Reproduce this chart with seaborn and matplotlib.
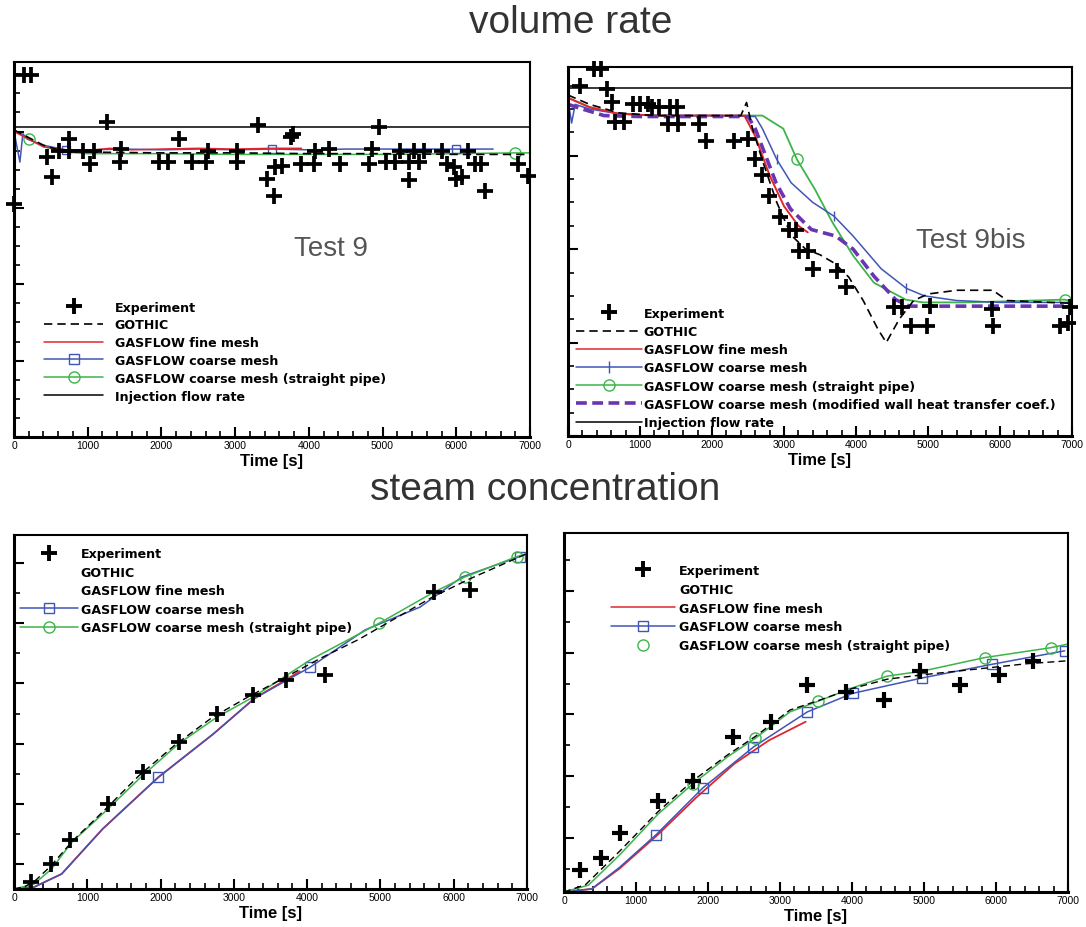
import numpy as np
import pandas as pd
import matplotlib
matplotlib.use("Agg")
import matplotlib.pyplot as plt
import seaborn as sns
from matplotlib.lines import Line2D
from matplotlib.ticker import MultipleLocator

sns.set_style("white")
plt.rcParams["font.family"] = ["Liberation Sans", "DejaVu Sans"]
plt.rcParams["text.color"] = "black"
plt.rcParams["axes.labelcolor"] = "black"

# ---------------- data : volume rate, Test 9 ----------------
tl_exp_x = [0, 141, 235, 446, 517, 611, 752, 752, 940, 1034, 1081, 1268, 1433, 1456, 1973, 2090,
            2232, 2419, 2607, 2631, 3030, 3030, 3312, 3430, 3523, 3547, 3641, 3758, 3782, 3899,
            4064, 4087, 4275, 4416, 4815, 4862, 4956, 5050, 5168, 5238, 5356, 5356, 5426, 5497,
            5567, 5802, 5872, 5966, 5990, 6084, 6154, 6248, 6342, 6389, 6836, 6977]
tl_exp_y = [3.05, 4.74, 4.74, 3.66, 3.40, 3.75, 3.90, 3.75, 3.75, 3.57, 3.75, 4.12, 3.60, 3.77, 3.60, 3.60,
            3.90, 3.60, 3.60, 3.75, 3.60, 3.75, 4.08, 3.38, 3.16, 3.53, 3.55, 3.93, 3.97, 3.57,
            3.57, 3.75, 3.77, 3.57, 3.57, 3.77, 4.06, 3.60, 3.60, 3.75, 3.60, 3.36, 3.75, 3.60,
            3.75, 3.75, 3.57, 3.53, 3.38, 3.40, 3.75, 3.57, 3.57, 3.22, 3.57, 3.42]
tl_goth_x = [0, 200, 400, 600, 1000, 2000, 3000, 4000, 5000, 6000, 7000]
tl_goth_y = [4.02, 3.92, 3.82, 3.76, 3.73, 3.72, 3.72, 3.71, 3.71, 3.70, 3.70]
tl_fine_x = [0, 200, 400, 700, 1000, 1300, 1600, 2000, 2500, 3000, 3500, 3900]
tl_fine_y = [4.00, 3.90, 3.80, 3.76, 3.75, 3.78, 3.76, 3.77, 3.78, 3.77, 3.78, 3.78]
tl_coarse_x = [0, 80, 120, 180, 400, 700, 1000, 1500, 2000, 2500, 3000, 3500, 4000, 4500, 5000, 5500, 6000, 6500]
tl_coarse_y = [4.00, 3.60, 3.97, 3.90, 3.82, 3.76, 3.76, 3.77, 3.76, 3.77, 3.76, 3.77, 3.76, 3.77, 3.77, 3.77, 3.77, 3.77]
tl_pipe_x = [0, 200, 400, 700, 1000, 2000, 3000, 4000, 5000, 6000, 6800, 7000]
tl_pipe_y = [4.02, 3.90, 3.80, 3.73, 3.71, 3.71, 3.70, 3.70, 3.70, 3.71, 3.72, 3.72]
tl_inj_x = [0, 7000]
tl_inj_y = [4.06, 4.06]

# ---------------- data : volume rate, Test 9bis ----------------
tr_exp_x = [170, 365, 462, 535, 608, 656, 778, 899, 997, 1118, 1167, 1264, 1385, 1410, 1507, 1531,
            1823, 1920, 2309, 2503, 2601, 2698, 2795, 2941, 3063, 3160, 3208, 3330, 3403, 3743,
            3865, 4521, 4642, 4764, 4983, 5031, 5882, 5906, 6830, 6951, 6976]
tr_exp_y = [3.75, 3.93, 3.93, 3.71, 3.57, 3.36, 3.36, 3.55, 3.55, 3.55, 3.52, 3.52, 3.34, 3.52, 3.52, 3.34,
            3.34, 3.16, 3.16, 3.18, 2.96, 2.79, 2.57, 2.34, 2.20, 2.20, 1.98, 1.98, 1.79, 1.77,
            1.59, 1.38, 1.38, 1.18, 1.18, 1.39, 1.36, 1.18, 1.18, 1.21, 1.38]
tr_goth_x = [0, 300, 700, 1200, 2000, 2400, 2480, 2560, 2700, 2900, 3100, 3300, 3500, 3700, 3900,
             4100, 4300, 4420, 4600, 4800, 5000, 5400, 5900, 6100, 7000]
tr_goth_y = [3.65, 3.55, 3.46, 3.43, 3.43, 3.43, 3.57, 3.30, 2.95, 2.50, 2.15, 2.00, 1.94, 1.85, 1.70,
             1.45, 1.15, 1.00, 1.25, 1.45, 1.52, 1.56, 1.56, 1.45, 1.42]
tr_fine_x = [0, 300, 700, 1200, 2000, 2450, 2600, 2800, 3000, 3200, 3330]
tr_fine_y = [3.62, 3.52, 3.45, 3.43, 3.43, 3.43, 3.21, 2.79, 2.46, 2.25, 2.18]
tr_coarse_x = [0, 50, 100, 300, 700, 1200, 2000, 2600, 2700, 2900, 3100, 3400, 3700, 3960, 4350,
               4700, 4950, 5400, 6000, 7000]
tr_coarse_y = [3.60, 3.35, 3.55, 3.50, 3.45, 3.43, 3.43, 3.42, 3.29, 2.96, 2.71, 2.50, 2.35, 2.14, 1.79,
               1.58, 1.50, 1.45, 1.43, 1.43]
tr_pipe_x = [0, 300, 700, 1200, 2000, 2700, 2990, 3180, 3430, 3670, 3960, 4250, 4690, 4930, 5500, 6000, 6900, 7000]
tr_pipe_y = [3.62, 3.52, 3.45, 3.43, 3.43, 3.43, 3.29, 2.96, 2.64, 2.29, 1.93, 1.64, 1.46, 1.43, 1.43, 1.44, 1.46, 1.44]
tr_wall_x = [0, 200, 500, 1000, 2000, 2500, 2600, 2890, 3090, 3380, 3720, 3960, 4250, 4550, 4740, 5500, 7000]
tr_wall_y = [3.55, 3.50, 3.43, 3.42, 3.42, 3.42, 3.29, 2.71, 2.43, 2.21, 2.14, 2.00, 1.71, 1.46, 1.39, 1.39, 1.39]
tr_inj_x = [0, 7000]
tr_inj_y = [3.725, 3.725]

# ---------------- data : steam concentration, Test 9 ----------------
bl_exp_x = [226, 508, 767, 1284, 1755, 2249, 2766, 3260, 3707, 4248, 5730, 6224]
bl_exp_y = [0.11, 0.42, 0.81, 1.42, 1.94, 2.44, 2.92, 3.22, 3.47, 3.56, 4.94, 4.97]
bl_goth_x = [0, 150, 300, 500, 800, 1200, 1700, 2200, 2700, 3200, 3700, 4200, 4700, 5200, 5700, 6200, 7000]
bl_goth_y = [0.00, 0.04, 0.15, 0.38, 0.80, 1.27, 1.88, 2.40, 2.85, 3.20, 3.52, 3.85, 4.15, 4.50, 4.85, 5.15, 5.58]
bl_fine_x = [0, 270, 650, 1210, 1970, 2720, 3280, 3900]
bl_fine_y = [0.00, 0.03, 0.25, 1.00, 1.86, 2.58, 3.17, 3.62]
bl_coarse_x = [0, 270, 650, 1210, 1970, 2720, 3280, 4040, 4790, 5540, 6110, 6900]
bl_coarse_y = [0.00, 0.03, 0.25, 1.00, 1.86, 2.58, 3.17, 3.69, 4.31, 4.69, 5.19, 5.53]
bl_pipe_x = [0, 270, 510, 790, 1210, 1730, 2250, 2770, 3260, 4040, 4980, 5730, 6150, 6860, 7000]
bl_pipe_y = [0.00, 0.08, 0.33, 0.78, 1.25, 1.86, 2.42, 2.86, 3.19, 3.81, 4.42, 4.94, 5.19, 5.53, 5.58]

# ---------------- data : steam concentration, Test 9bis ----------------
br_exp_x = [217, 507, 772, 1304, 1786, 2342, 2873, 3380, 3911, 4442, 4949, 5504, 6035, 6518]
br_exp_y = [0.36, 0.55, 0.96, 1.48, 1.80, 2.51, 2.76, 3.36, 3.25, 3.11, 3.58, 3.36, 3.52, 3.74]
br_goth_x = [0, 300, 772, 1304, 1786, 2269, 2655, 3138, 3524, 4007, 4490, 4973, 5460, 5940, 6420, 6900, 7000]
br_goth_y = [0.00, 0.12, 0.66, 1.30, 1.80, 2.22, 2.52, 2.95, 3.10, 3.30, 3.45, 3.52, 3.58, 3.64, 3.70, 3.74, 3.75]
br_fine_x = [0, 386, 772, 1304, 1835, 2366, 2849, 3356]
br_fine_y = [0.00, 0.05, 0.38, 0.93, 1.53, 2.08, 2.46, 2.76]
br_coarse_x = [0, 386, 772, 1280, 1931, 2631, 3380, 4007, 4973, 5938, 6953]
br_coarse_y = [0.00, 0.05, 0.40, 0.93, 1.69, 2.35, 2.92, 3.22, 3.47, 3.69, 3.91]
br_pipe_x = [0, 338, 772, 1304, 1786, 2269, 2655, 3138, 3524, 4007, 4490, 4973, 5842, 6759, 7000]
br_pipe_y = [0.00, 0.11, 0.60, 1.26, 1.75, 2.19, 2.49, 2.92, 3.09, 3.31, 3.50, 3.58, 3.80, 3.96, 4.02]

# legend labels
lab_exp = "Experiment"
lab_goth = "GOTHIC"
lab_fine = "GASFLOW fine mesh"
lab_coarse = "GASFLOW coarse mesh"
lab_pipe = "GASFLOW coarse mesh (straight pipe)"
lab_wall = "GASFLOW coarse mesh (modified wall heat transfer coef.)"
lab_inj = "Injection flow rate"

RED = "#e0262f"
BLUE = "#4055b5"
GREEN = "#3cb44a"
PURPLE = "#6a35b0"
DASH = (0, (5, 3))

W, H = 1086, 928
fig = plt.figure(figsize=(W / 100, H / 100), dpi=100)


def make_ax(l, t, r, b):
    return fig.add_axes([l / W, 1 - b / H, (r - l) / W, (b - t) / H])


def line(ax, x, y, color, ls="-", lw=1.1, marker=None, ms=8, every=None, mew=1.0):
    df = pd.DataFrame({"x": x, "y": y})
    kw = dict(color=color, linewidth=lw, linestyle=ls)
    if marker is not None:
        kw.update(marker=marker, markersize=ms, markerfacecolor="none",
                  markeredgecolor=color, markeredgewidth=mew, markevery=every)
    sns.lineplot(data=df, x="x", y="y", ax=ax, estimator=None, sort=False, **kw)


def exp(ax, x, y, s=120, lw=2.7):
    df = pd.DataFrame({"x": x, "y": y})
    sns.scatterplot(data=df, x="x", y="y", ax=ax, marker="+", s=s, color="k",
                    linewidth=lw, zorder=5)
    ax.collections[-1].set_clip_on(False)


def style(ax, ytop, yticks_major, yticks_minor):
    ax.set_xlim(0, 7000)
    ax.set_ylim(0, ytop)
    ax.xaxis.set_major_locator(MultipleLocator(1000))
    ax.xaxis.set_minor_locator(MultipleLocator(200))
    ax.set_yticks(yticks_major)
    ax.set_yticks(yticks_minor, minor=True)
    ax.set_yticklabels([])
    ax.tick_params(which="both", direction="in", top=False, right=False,
                   bottom=True, left=True, colors="k")
    ax.tick_params(which="major", length=7, width=1.5)
    ax.tick_params(which="minor", length=4, width=1.2)
    ax.tick_params(axis="x", labelsize=7.5, pad=2)
    for s in ["left", "bottom"]:
        ax.spines[s].set_linewidth(2.2)
        ax.spines[s].set_color("k")
    for s in ["top", "right"]:
        ax.spines[s].set_linewidth(1.5)
        ax.spines[s].set_color("k")
    ax.set_xlabel("Time [s]", fontsize=12, fontweight="bold", labelpad=2.5, color="k")
    ax.set_ylabel("")


def legend(ax, handles, labels, bx, by, hl, htp, ls):
    leg = ax.legend(handles, labels, loc="upper left", bbox_to_anchor=(bx, by),
                    frameon=False, borderpad=0, borderaxespad=0, handlelength=hl,
                    handletextpad=htp, labelspacing=ls,
                    prop={"size": 9.1, "weight": "bold", "family": "DejaVu Sans"})
    for t in leg.get_texts():
        t.set_color("black")


h_exp = Line2D([], [], color="k", marker="+", ms=11, mew=2.8, ls="none")
h_goth = Line2D([], [], color="k", ls=DASH, lw=1.2)
h_fine = Line2D([], [], color=RED, lw=1.1)
h_coarse_s = Line2D([], [], color=BLUE, lw=1.1, marker="s", ms=7, mfc="none", mec=BLUE)
h_coarse_t = Line2D([], [], color=BLUE, lw=1.1, marker="|", ms=8, mec=BLUE)
h_pipe = Line2D([], [], color=GREEN, lw=1.1, marker="o", ms=8, mfc="none", mec=GREEN)
h_wall = Line2D([], [], color=PURPLE, ls=(0, (3, 1.5)), lw=2.6)
h_inj = Line2D([], [], color="k", lw=1.1)
h_none = Line2D([], [], ls="none")
h_pipe_m = Line2D([], [], color=GREEN, marker="o", ms=8, mfc="none", mec=GREEN, ls="none")

# ---------------- top left ----------------
ax1 = make_ax(14, 63, 530, 438)
line(ax1, tl_inj_x, tl_inj_y, "k", lw=1.1)
line(ax1, tl_pipe_x, tl_pipe_y, GREEN, marker="o", every=[1, 10])
line(ax1, tl_coarse_x, tl_coarse_y, BLUE, marker="s", ms=6, every=[5, 11, 16])
line(ax1, tl_fine_x, tl_fine_y, RED)
line(ax1, tl_goth_x, tl_goth_y, "k", ls=DASH, lw=1.2)
exp(ax1, tl_exp_x, tl_exp_y)
style(ax1, 4.91, np.arange(0, 4.9, 1.0), np.arange(0, 4.9, 0.25))
ax1.text(0.615, 0.505, "Test 9", transform=ax1.transAxes, fontsize=20, color="#555555",
         ha="center", va="center")
legend(ax1, [h_exp, h_goth, h_fine, h_coarse_s, h_pipe, h_inj],
       [lab_exp, lab_goth, lab_fine, lab_coarse, lab_pipe, lab_inj],
       0.058, 0.364, 4.7, 0.9, 0.38)

# ---------------- top right ----------------
ax2 = make_ax(568, 68, 1072, 437)
line(ax2, tr_inj_x, tr_inj_y, "k", lw=1.1)
line(ax2, tr_pipe_x, tr_pipe_y, GREEN, lw=1.3, marker="o", every=[7, 16])
line(ax2, tr_coarse_x, tr_coarse_y, BLUE, lw=1.1, marker="|", ms=7, every=[9, 12, 15])
line(ax2, tr_fine_x, tr_fine_y, RED, lw=1.4)
line(ax2, tr_wall_x, tr_wall_y, PURPLE, ls=(0, (3, 1.5)), lw=2.6)
line(ax2, tr_goth_x, tr_goth_y, "k", ls=DASH, lw=1.2)
exp(ax2, tr_exp_x, tr_exp_y)
style(ax2, 3.95, np.arange(0, 3.95, 1.0), np.arange(0, 3.95, 0.25))
ax2.text(0.80, 0.53, "Test 9bis", transform=ax2.transAxes, fontsize=20, color="#555555",
         ha="center", va="center")
legend(ax2, [h_exp, h_goth, h_fine, h_coarse_t, h_pipe, h_wall, h_inj],
       [lab_exp, lab_goth, lab_fine, lab_coarse, lab_pipe, lab_wall, lab_inj],
       0.016, 0.35, 5.2, 0.15, 0.41)

# ---------------- bottom left ----------------
ax3 = make_ax(14, 536, 527, 890)
line(ax3, bl_fine_x, bl_fine_y, RED, lw=1.3)
line(ax3, bl_coarse_x, bl_coarse_y, BLUE, lw=1.1, marker="s", ms=7, every=[4, 7, 11])
line(ax3, bl_pipe_x, bl_pipe_y, GREEN, lw=1.1, marker="o", every=[10, 12, 13])
line(ax3, bl_goth_x, bl_goth_y, "k", ls=DASH, lw=1.0)
exp(ax3, bl_exp_x, bl_exp_y)
style(ax3, 5.89, np.arange(0.42, 5.89, 1.0), np.arange(0.42, 5.89, 0.5))
legend(ax3, [h_exp, h_none, h_none, h_coarse_s, h_pipe],
       [lab_exp, lab_goth, lab_fine, lab_coarse, lab_pipe],
       0.012, 0.966, 4.6, 0.2, 0.44)

# ---------------- bottom right ----------------
ax4 = make_ax(564, 534, 1068, 893)
line(ax4, br_fine_x, br_fine_y, RED, lw=1.3)
line(ax4, br_coarse_x, br_coarse_y, BLUE, lw=1.1, marker="s", ms=7, every=[3, 4, 5, 6, 7, 8, 9, 10])
line(ax4, br_pipe_x, br_pipe_y, GREEN, lw=1.1, marker="o", every=[4, 6, 8, 10, 12, 13])
line(ax4, br_goth_x, br_goth_y, "k", ls=DASH, lw=1.0)
exp(ax4, br_exp_x, br_exp_y, s=130, lw=3.0)
style(ax4, 5.82, np.arange(0.88, 5.82, 1.0), np.arange(0.38, 5.82, 0.5))
legend(ax4, [h_exp, h_none, h_fine, h_coarse_s, h_pipe_m],
       [lab_exp, lab_goth, lab_fine, lab_coarse, lab_pipe],
       0.093, 0.914, 5.1, 0.3, 0.46)

# ---------------- section titles ----------------
fig.text(571 / W, 1 - 23 / H, "volume rate", fontsize=28, color="#333333",
         ha="center", va="center")
fig.text(545 / W, 1 - 490 / H, "steam concentration", fontsize=28, color="#333333",
         ha="center", va="center")

fig.savefig("out.png", dpi=100)
